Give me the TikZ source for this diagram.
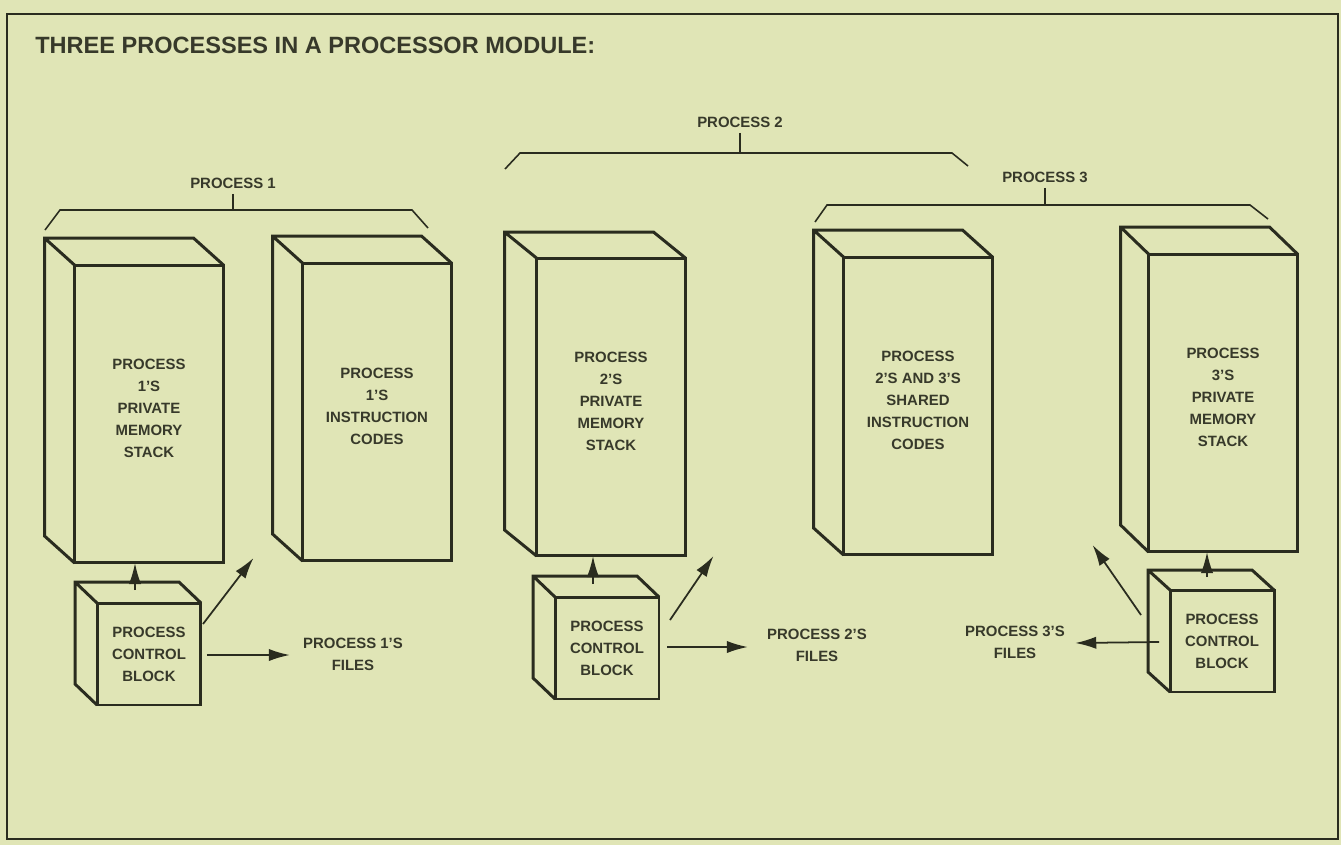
\documentclass[tikz,border=0pt]{standalone}
\usepackage{fontspec}
\setmainfont{Liberation Sans}
\usepackage{tikz}
\usetikzlibrary{arrows.meta,calc}
\definecolor{paper}{RGB}{224,229,182}
\definecolor{ink}{RGB}{42,44,31}
\definecolor{inktext}{RGB}{55,57,42}
\tikzset{
  faceline/.style={
    rectangle, draw=ink, line width=1.7pt, align=center, inner sep=0pt, outer sep=0pt,
    font=\fontsize{8.5}{12.5}\selectfont\bfseries, text=inktext
  },
  slab/.style={faceline, minimum width=2.98cm, minimum height=5.96cm, text depth=0.22cm},
  pcb/.style={faceline, minimum width=2.08cm, minimum height=2.04cm},
  flabel/.style={align=center, inner sep=0pt, font=\fontsize{8.5}{12.5}\selectfont\bfseries, text=inktext},
  plabel/.style={flabel, inner sep=3pt},
  parrow/.style={draw=ink, line width=1pt, -{Latex[length=12pt,width=7pt]}},
  brace/.style={draw=ink, line width=0.9pt}
}

\begin{document}
\begin{tikzpicture}[x=0.02cm, y=-0.02cm]
        \fill[paper] (0,0) rectangle (1341,845);
        \useasboundingbox (0,0) rectangle (1341,845);
        \draw[ink, line width=1.3pt] (7,14) rectangle (1338,839);
        \node[anchor=west, inner sep=0pt, text=inktext,
              font=\fontsize{13.4}{16}\selectfont\bfseries]  (title) at (35,45) {THREE PROCESSES IN A PROCESSOR MODULE:};

        \node[slab] (m1) at (149,414)   {PROCESS\\1'S\\PRIVATE\\MEMORY\\STACK};
        \node[slab] (m2) at (377,412)   {PROCESS\\1'S\\INSTRUCTION\\CODES};
        \node[slab] (m3) at (611,407)   {PROCESS\\2'S\\PRIVATE\\MEMORY\\STACK};
        \node[slab] (m4) at (918,406)   {PROCESS\\2'S AND 3'S\\SHARED\\INSTRUCTION\\CODES};
        \node[slab] (m5) at (1223,403)  {PROCESS\\3'S\\PRIVATE\\MEMORY\\STACK};
        \node[pcb]  (pcb1) at (149,654)  {PROCESS\\CONTROL\\BLOCK};
        \node[pcb]  (pcb2) at (607,648)  {PROCESS\\CONTROL\\BLOCK};
        \node[pcb]  (pcb3) at (1222,641) {PROCESS\\CONTROL\\BLOCK};
        \foreach \n/\dx/\dy in {m1/30/27,m2/30/27,m3/32/26,m4/30/27,m5/28/27,pcb1/22/21,pcb2/22/21,pcb3/22/20}
          \draw[ink, line width=1.7pt] (\n.south west) -- ++(-\dx,-\dy) -- ($(\n.north west)+(-\dx,-\dy)$)
            -- ($(\n.north east)+(-\dx,-\dy)$) -- (\n.north east) (\n.north west) -- ++(-\dx,-\dy);

        \node[plabel] (p1) at (233,183)  {PROCESS 1};
        \node[plabel] (p2) at (740,122)  {PROCESS 2};
        \node[plabel] (p3) at (1045,177) {PROCESS 3};
        \coordinate (p1mid) at (233,210);
        \coordinate (p2mid) at (740,153);
        \coordinate (p3mid) at (1045,205);
        \foreach \p in {p1,p2,p3}
          \draw[brace] (\p) -- (\p mid);
        \draw[brace] (45,230) -- (60,210) -- (412,210) -- (428,228);
        \draw[brace] (505,169) -- (520,153) -- (952,153) -- (968,166);
        \draw[brace] (815,222) -- (827,205) -- (1250,205) -- (1268,219);

        \node[flabel] (files1) at (353,654)  {PROCESS 1'S\\FILES};
        \node[flabel] (files2) at (817,645)  {PROCESS 2'S\\FILES};
        \node[flabel] (files3) at (1015,642) {PROCESS 3'S\\FILES};

        \foreach \a/\b/\dx in {pcb1/m1/-14,pcb2/m3/-14,pcb3/m5/-15} {
          \coordinate (t) at ($(\a.north)+(\dx,-13)$);
          \draw[parrow] (t) -- (t |- \b.south);
        }
        \coordinate (d1) at ($(m2.south west)+(-49,-3)$);
        \coordinate (d2) at ($(m3.south east)+(28,0)$);
        \coordinate (d3) at ($(m5.south west)+(-56,-7)$);
        \draw[parrow] ($(pcb1.north east)+(2,21)$) -- (d1);
        \draw[parrow] ($(pcb2.north east)+(11,23)$) -- (d2);
        \draw[parrow] ($(pcb3.north west)+(-29,25)$) -- (d3);
        \draw[parrow] ($(pcb1.east)+(6,1)$) -- ($(files1.west)+(-13,1)$);
        \draw[parrow] ($(pcb2.east)+(8,-1)$) -- ($(files2.west)+(-19,2)$);
        \draw[parrow] ($(pcb3.west)+(-11,1)$) -- ($(files3.east)+(10,1)$);
      \end{tikzpicture}
\end{document}
